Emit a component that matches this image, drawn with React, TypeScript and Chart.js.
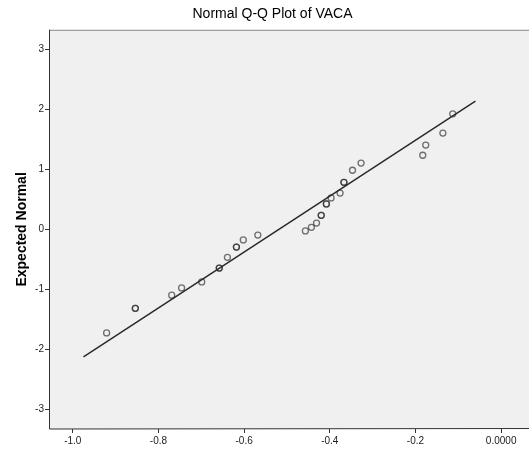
import React, { useEffect, useRef } from "react";
import { Chart, registerables } from "chart.js";

Chart.register(...registerables);

// Observed values of VACA (x) and their expected normal values (y); ties repeated
const observedValues = [
  -0.921, -0.854, -0.854, -0.769, -0.746, -0.699, -0.658, -0.658, -0.639,
  -0.618, -0.618, -0.602, -0.568, -0.457, -0.443, -0.431, -0.42, -0.42,
  -0.408, -0.408, -0.397, -0.376, -0.367, -0.367, -0.347, -0.327, -0.183,
  -0.176, -0.136, -0.113,
];
const expectedNormal = [
  -1.73, -1.32, -1.32, -1.1, -0.98, -0.88, -0.65, -0.65, -0.47, -0.3, -0.3,
  -0.18, -0.1, -0.03, 0.03, 0.1, 0.23, 0.23, 0.42, 0.42, 0.52, 0.6, 0.78,
  0.78, 0.98, 1.1, 1.23, 1.4, 1.6, 1.92,
];
// Reference line endpoints
const lineX = [-0.975, -0.06];
const lineY = [-2.13, 2.13];
// Tick values
const xTicks = [-1.0, -0.8, -0.6, -0.4, -0.2, 0.0];
const yTicks = [-3, -2, -1, 0, 1, 2, 3];

const FONT = "'Liberation Sans', Arial, sans-serif";

const framePlugin = {
  id: "frame",
  beforeDraw(chart: any) {
    const { ctx, chartArea } = chart;
    const { left, top, right, bottom } = chartArea;
    ctx.save();
    ctx.fillStyle = "#ffffff";
    ctx.fillRect(0, 0, chart.width, chart.height);
    ctx.fillStyle = "#f0f0f0";
    ctx.fillRect(left, top, right - left, bottom - top);
    ctx.restore();
  },
  afterDraw(chart: any) {
    const { ctx, chartArea } = chart;
    const { left, top, right, bottom } = chartArea;
    ctx.save();
    ctx.strokeStyle = "#8a8a8a";
    ctx.lineWidth = 1;
    ctx.beginPath();
    ctx.moveTo(left, top + 0.5);
    ctx.lineTo(right, top + 0.5);
    ctx.stroke();
    ctx.strokeStyle = "#333333";
    ctx.beginPath();
    ctx.moveTo(left + 0.5, top);
    ctx.lineTo(left + 0.5, bottom);
    ctx.lineTo(right, bottom - 0.5);
    ctx.stroke();
    ctx.restore();
  },
};

export default function App() {
  const ref = useRef<HTMLCanvasElement | null>(null);

  useEffect(() => {
    if (!ref.current) return;
    const points = observedValues.map((x, i) => ({ x, y: expectedNormal[i] }));
    const linePts = lineX.map((x, i) => ({ x, y: lineY[i] }));
    const chart = new Chart(ref.current, {
      type: "scatter",
      data: {
        datasets: [
          {
            type: "line",
            data: linePts,
            borderColor: "#2a2a2a",
            borderWidth: 1.5,
            pointRadius: 0,
            showLine: true,
            order: 2,
          } as any,
          {
            data: points,
            pointStyle: "circle",
            pointRadius: 3,
            borderWidth: 1.3,
            borderColor: "rgba(40,40,40,0.65)",
            backgroundColor: "rgba(0,0,0,0)",
            order: 1,
          },
        ],
      },
      options: {
        animation: false,
        responsive: false,
        devicePixelRatio: 1,
        layout: { padding: { top: 0, left: 0, right: 0, bottom: 0 } },
        plugins: {
          legend: { display: false },
          tooltip: { enabled: false },
          title: {
            display: true,
            text: "Normal Q-Q Plot of VACA",
            color: "#000000",
            font: { family: FONT, size: 14, weight: "normal" },
            padding: { top: 6, bottom: 7 },
          },
        },
        scales: {
          x: {
            type: "linear",
            min: -1.0555,
            max: 0.09,
            afterBuildTicks: (scale: any) => {
              scale.ticks = xTicks.map((v) => ({ value: v }));
            },
            afterFit: (scale: any) => {
              scale.height = 25;
            },
            grid: {
              display: true,
              drawOnChartArea: false,
              drawTicks: true,
              tickLength: 4,
              color: "#333333",
            },
            border: { display: false },
            ticks: {
              color: "#222222",
              font: { family: FONT, size: 10 },
              padding: 2,
              maxRotation: 0,
              autoSkip: false,
              callback: (v: any) => (Number(v) === 0 ? "0.0000" : Number(v).toFixed(1)),
            },
          },
          y: {
            type: "linear",
            min: -3.33,
            max: 3.32,
            afterBuildTicks: (scale: any) => {
              scale.ticks = yTicks.map((v) => ({ value: v }));
            },
            afterFit: (scale: any) => {
              scale.width = 49;
            },
            grid: {
              display: true,
              drawOnChartArea: false,
              drawTicks: true,
              tickLength: 4,
              color: "#333333",
            },
            border: { display: false },
            title: {
              display: true,
              text: "Expected Normal",
              color: "#000000",
              font: { family: FONT, size: 14, weight: "bold" },
              padding: { top: 14, bottom: 0 },
            },
            ticks: {
              color: "#222222",
              font: { family: FONT, size: 10 },
              padding: 1,
              autoSkip: false,
              callback: (v: any) => String(v),
            },
          },
        },
      },
      plugins: [framePlugin],
    });
    return () => chart.destroy();
  }, []);

  return (
    <div
      style={{
        position: "fixed",
        left: 0,
        top: 0,
        width: 529,
        height: 454,
        overflow: "hidden",
        background: "#ffffff",
      }}
    >
      <canvas ref={ref} width={545} height={454} style={{ display: "block" }} />
    </div>
  );
}
